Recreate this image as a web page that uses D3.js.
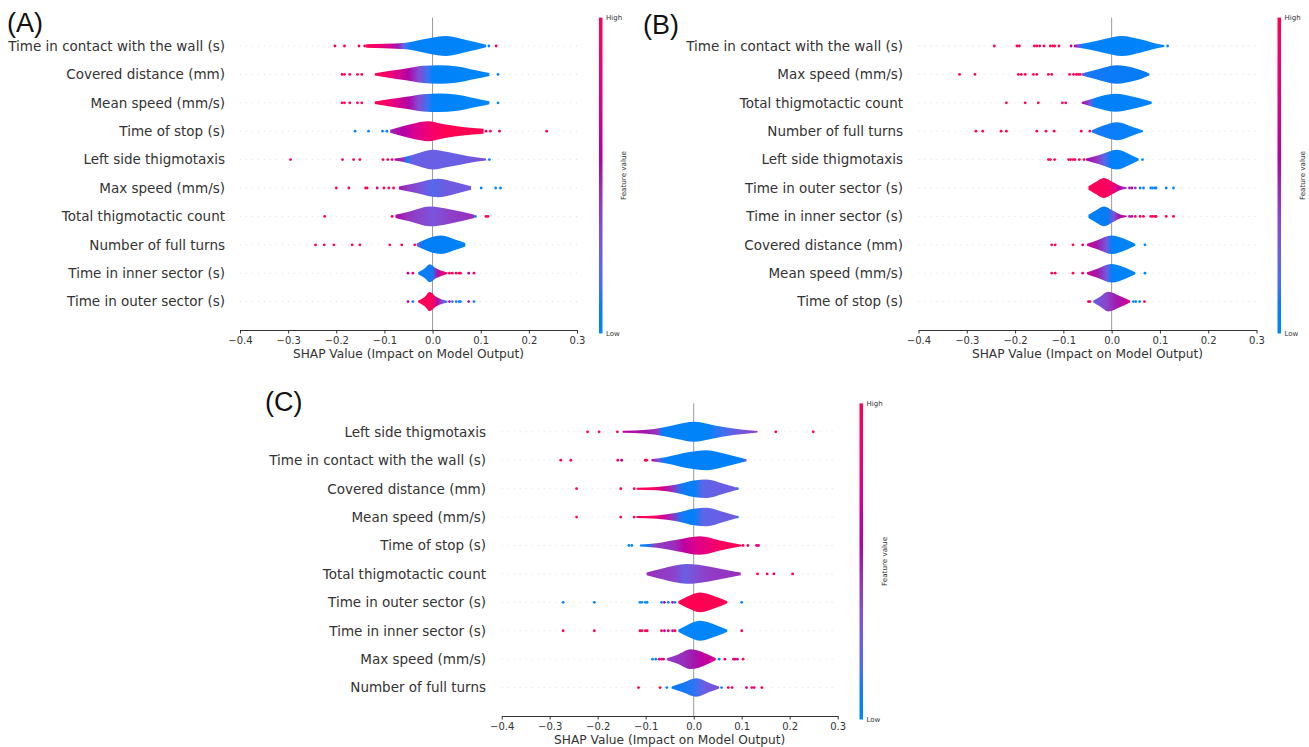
<!DOCTYPE html>
<html>
<head>
<meta charset="utf-8">
<script src="https://cdn.jsdelivr.net/npm/d3@7"></script>
<style>
  body { margin: 0; background: #ffffff; }
  svg { display: block; font-family: "DejaVu Sans", sans-serif; }
</style>
</head>
<body>
<div id="container"></div>
<script>
/* DATA */
const tickValues = [-0.4, -0.3, -0.2, -0.1, 0.0, 0.1, 0.2, 0.3];

const featuresA = ["Time in contact with the wall (s)", "Covered distance (mm)", "Mean speed (mm/s)", "Time of stop (s)",
  "Left side thigmotaxis", "Max speed (mm/s)", "Total thigmotactic count", "Number of full turns",
  "Time in inner sector (s)", "Time in outer sector (s)"];
const featuresB = ["Time in contact with the wall (s)", "Max speed (mm/s)", "Total thigmotactic count", "Number of full turns",
  "Left side thigmotaxis", "Time in outer sector (s)", "Time in inner sector (s)", "Covered distance (mm)",
  "Mean speed (mm/s)", "Time of stop (s)"];
const featuresC = ["Left side thigmotaxis", "Time in contact with the wall (s)", "Covered distance (mm)", "Mean speed (mm/s)",
  "Time of stop (s)", "Total thigmotactic count", "Time in outer sector (s)", "Time in inner sector (s)",
  "Max speed (mm/s)", "Number of full turns"];

// violin outline: [shap value, relative density]
const shapesA = [
  [[-0.138, 0.17], [-0.10, 0.22], [-0.055, 0.33], [-0.007, 0.77], [0.028, 1.0], [0.07, 0.6], [0.111, 0.12]],
  [[-0.12, 0.12], [-0.088, 0.37], [-0.055, 0.6], [-0.02, 0.87], [0.014, 0.93], [0.048, 0.83], [0.09, 0.43], [0.118, 0.15]],
  [[-0.12, 0.12], [-0.088, 0.37], [-0.055, 0.6], [-0.02, 0.87], [0.014, 0.93], [0.048, 0.83], [0.09, 0.43], [0.118, 0.15]],
  [[-0.088, 0.15], [-0.062, 0.5], [-0.034, 0.83], [-0.01, 1.0], [0.021, 0.73], [0.062, 0.43], [0.106, 0.25]],
  [[-0.079, 0.1], [-0.058, 0.27], [-0.034, 0.6], [0.0, 1.0], [0.034, 0.73], [0.075, 0.33], [0.111, 0.1]],
  [[-0.07, 0.15], [-0.034, 0.5], [0.011, 0.93], [0.048, 0.57], [0.08, 0.17]],
  [[-0.077, 0.17], [-0.048, 0.5], [-0.006, 1.0], [0.035, 0.73], [0.087, 0.17]],
  [[-0.033, 0.12], [-0.021, 0.4], [0.018, 0.93], [0.048, 0.5], [0.068, 0.17]],
  [[-0.03, 0.1], [-0.016, 0.5], [-0.006, 0.9], [0.007, 0.5], [0.024, 0.17], [0.031, 0.08]],
  [[-0.03, 0.1], [-0.016, 0.5], [-0.006, 0.97], [0.007, 0.5], [0.024, 0.17], [0.031, 0.08]]
];
const shapesB = [
  [[-0.078, 0.12], [-0.052, 0.3], [-0.017, 0.67], [0.021, 1.0], [0.059, 0.67], [0.094, 0.23], [0.109, 0.1]],
  [[-0.062, 0.1], [-0.038, 0.4], [0.011, 0.93], [0.045, 0.67], [0.078, 0.1]],
  [[-0.062, 0.08], [-0.038, 0.43], [0.007, 0.9], [0.045, 0.6], [0.083, 0.1]],
  [[-0.041, 0.1], [-0.017, 0.57], [0.011, 0.9], [0.045, 0.4], [0.065, 0.08]],
  [[-0.053, 0.1], [-0.024, 0.5], [0.011, 1.0], [0.039, 0.5], [0.056, 0.1]],
  [[-0.048, 0.17], [-0.034, 0.57], [-0.016, 1.0], [0.003, 0.57], [0.02, 0.17], [0.031, 0.07]],
  [[-0.048, 0.17], [-0.034, 0.57], [-0.016, 1.0], [0.003, 0.57], [0.02, 0.17], [0.031, 0.07]],
  [[-0.051, 0.1], [-0.031, 0.43], [0.0, 0.93], [0.031, 0.5], [0.049, 0.1]],
  [[-0.051, 0.1], [-0.031, 0.43], [0.0, 0.93], [0.031, 0.5], [0.049, 0.1]],
  [[-0.038, 0.1], [-0.024, 0.5], [-0.007, 1.0], [0.017, 0.57], [0.038, 0.1]]
];
const shapesC = [
  [[-0.148, 0.1], [-0.098, 0.2], [-0.067, 0.4], [-0.035, 0.73], [0.0, 1.0], [0.041, 0.67], [0.083, 0.33], [0.133, 0.07]],
  [[-0.088, 0.1], [-0.056, 0.33], [-0.015, 0.77], [0.027, 1.0], [0.069, 0.6], [0.11, 0.1]],
  [[-0.119, 0.1], [-0.077, 0.17], [-0.035, 0.43], [0.0, 0.83], [0.027, 0.93], [0.062, 0.5], [0.091, 0.1]],
  [[-0.119, 0.1], [-0.077, 0.17], [-0.035, 0.43], [0.0, 0.83], [0.027, 0.93], [0.062, 0.5], [0.091, 0.1]],
  [[-0.112, 0.1], [-0.077, 0.23], [-0.035, 0.57], [0.013, 0.93], [0.055, 0.5], [0.1, 0.07]],
  [[-0.098, 0.13], [-0.063, 0.57], [-0.015, 1.0], [0.034, 0.73], [0.076, 0.33], [0.098, 0.13]],
  [[-0.032, 0.1], [-0.015, 0.53], [0.013, 1.0], [0.048, 0.53], [0.07, 0.1]],
  [[-0.032, 0.1], [-0.015, 0.53], [0.013, 1.0], [0.048, 0.53], [0.07, 0.1]],
  [[-0.056, 0.1], [-0.035, 0.43], [-0.006, 1.0], [0.027, 0.53], [0.046, 0.1]],
  [[-0.046, 0.1], [-0.021, 0.5], [0.005, 0.93], [0.034, 0.43], [0.053, 0.1]]
];

// mean feature value along the violin: [shap value, 0 = low .. 1 = high]
const coloursA = [
  [[-0.138, 1], [-0.115, 0.9], [-0.09, 0.7], [-0.072, 0.5], [-0.06, 0.2], [-0.045, 0.05], [0.111, 0.02]],
  [[-0.12, 1], [-0.095, 0.9], [-0.075, 0.75], [-0.05, 0.55], [-0.03, 0.35], [-0.01, 0.15], [0.0, 0.03], [0.118, 0.02]],
  [[-0.12, 1], [-0.095, 0.9], [-0.075, 0.75], [-0.05, 0.55], [-0.03, 0.35], [-0.01, 0.15], [0.0, 0.03], [0.118, 0.02]],
  [[-0.088, 0.48], [-0.06, 0.58], [-0.035, 0.72], [-0.01, 0.85], [0.01, 0.95], [0.03, 1], [0.106, 1]],
  [[-0.079, 0.55], [-0.06, 0.45], [-0.055, 0.05], [-0.045, 0.25], [0.05, 0.25], [0.111, 0.32]],
  [[-0.07, 0.5], [-0.05, 0.4], [-0.02, 0.28], [0.0, 0.2], [0.03, 0.27], [0.08, 0.27]],
  [[-0.077, 0.55], [-0.05, 0.42], [-0.02, 0.36], [0.0, 0.3], [0.03, 0.38], [0.087, 0.45]],
  [[-0.033, 0.25], [-0.02, 0.08], [0.068, 0.03]],
  [[-0.03, 0.05], [0.0, 0.1], [0.01, 0.5], [0.02, 0.8], [0.031, 0.9]],
  [[-0.03, 1], [0.0, 0.95], [0.01, 0.6], [0.02, 0.3], [0.031, 0.15]]
];
const coloursB = [
  [[-0.078, 0.55], [-0.068, 0.3], [-0.06, 0.05], [0.109, 0.02]],
  [[-0.062, 0.35], [-0.05, 0.1], [0.078, 0.08]],
  [[-0.062, 0.55], [-0.045, 0.3], [-0.035, 0.05], [0.083, 0.03]],
  [[-0.041, 0.1], [0.065, 0.02]],
  [[-0.053, 0.55], [-0.03, 0.42], [-0.015, 0.2], [0.0, 0.05], [0.056, 0.02]],
  [[-0.048, 1], [-0.01, 0.95], [0.005, 0.85], [0.015, 0.6], [0.031, 0.4]],
  [[-0.048, 0.03], [-0.01, 0.08], [0.005, 0.3], [0.015, 0.5], [0.031, 0.7]],
  [[-0.051, 0.7], [-0.03, 0.5], [-0.01, 0.28], [0.0, 0.05], [0.049, 0.02]],
  [[-0.051, 0.7], [-0.03, 0.5], [-0.01, 0.28], [0.0, 0.05], [0.049, 0.02]],
  [[-0.038, 0.25], [-0.01, 0.38], [0.01, 0.5], [0.03, 0.65], [0.038, 0.7]]
];
const coloursC = [
  [[-0.148, 0.6], [-0.1, 0.5], [-0.075, 0.42], [-0.065, 0.05], [0.03, 0.03], [0.06, 0.15], [0.1, 0.3], [0.133, 0.4]],
  [[-0.088, 0.6], [-0.075, 0.35], [-0.06, 0.05], [0.1, 0.05], [0.11, 0.35]],
  [[-0.119, 1], [-0.085, 0.95], [-0.065, 0.7], [-0.045, 0.45], [-0.025, 0.1], [0.0, 0.05], [0.02, 0.22], [0.091, 0.27]],
  [[-0.119, 1], [-0.085, 0.95], [-0.065, 0.7], [-0.045, 0.45], [-0.025, 0.1], [0.0, 0.05], [0.02, 0.22], [0.091, 0.27]],
  [[-0.112, 0.02], [-0.095, 0.1], [-0.08, 0.4], [-0.04, 0.45], [-0.02, 0.6], [0.0, 0.72], [0.03, 0.82], [0.06, 0.95], [0.1, 1]],
  [[-0.098, 0.45], [-0.04, 0.38], [-0.02, 0.25], [0.0, 0.32], [0.03, 0.4], [0.098, 0.45]],
  [[-0.032, 1], [0.07, 1]],
  [[-0.032, 0.02], [0.07, 0.02]],
  [[-0.056, 0.4], [-0.02, 0.45], [0.0, 0.5], [0.02, 0.6], [0.046, 0.72]],
  [[-0.046, 0.08], [0.0, 0.12], [0.02, 0.25], [0.053, 0.33]]
];

// single points outside the violins: [shap value, feature value]
const dotsA = [
  [[-0.203, 1], [-0.183, 1], [-0.153, 1], [-0.141, 1], [0.117, 0], [0.132, 1]],
  [[-0.188, 1], [-0.183, 1], [-0.172, 1], [-0.156, 1], [-0.147, 1], [0.136, 0]],
  [[-0.188, 1], [-0.183, 1], [-0.172, 1], [-0.156, 1], [-0.147, 1], [0.136, 0]],
  [[-0.161, 0], [-0.133, 0], [-0.104, 0], [-0.095, 0], [0.111, 1], [0.120, 1], [0.139, 1], [0.237, 1]],
  [[-0.295, 0.85], [-0.187, 0.75], [-0.164, 1], [-0.151, 1], [-0.103, 1], [-0.093, 1], [-0.084, 0.85], [0.118, 0]],
  [[-0.2, 1], [-0.174, 1], [-0.139, 1], [-0.136, 1], [-0.115, 0.7], [-0.101, 1], [-0.091, 1], [-0.081, 1], [0.101, 0], [0.131, 0], [0.141, 0]],
  [[-0.224, 1], [-0.084, 1], [0.089, 0], [0.111, 1], [0.115, 1]],
  [[-0.243, 1], [-0.225, 1], [-0.205, 1], [-0.167, 1], [-0.151, 1], [-0.089, 1], [-0.064, 1], [-0.037, 0.9]],
  [[-0.051, 0.6], [-0.041, 0.8], [0.035, 1], [0.041, 1], [0.049, 1], [0.055, 0.9], [0.058, 1], [0.075, 0.55], [0.086, 1]],
  [[-0.051, 0.6], [-0.041, 0.1], [0.035, 0.5], [0.041, 0.2], [0.049, 0], [0.055, 0.1], [0.058, 0], [0.075, 0.5], [0.086, 0]]
];
const dotsB = [
  [[-0.243, 1], [-0.196, 1], [-0.191, 1], [-0.160, 1], [-0.155, 1], [-0.149, 1], [-0.140, 1], [-0.127, 1], [-0.122, 1], [-0.118, 1], [-0.109, 1], [-0.084, 0.6], [0.116, 0]],
  [[-0.315, 1], [-0.283, 1], [-0.193, 1], [-0.187, 1], [-0.179, 1], [-0.162, 1], [-0.155, 1], [-0.131, 1], [-0.124, 1], [-0.087, 1], [-0.079, 0.9], [-0.073, 1], [-0.069, 0.8], [-0.065, 1]],
  [[-0.218, 1], [-0.179, 1], [-0.152, 1], [-0.102, 1], [-0.095, 1]],
  [[-0.281, 1], [-0.267, 1], [-0.229, 1], [-0.218, 1], [-0.155, 1], [-0.136, 1], [-0.119, 1], [-0.063, 1], [-0.045, 0.9]],
  [[-0.131, 1], [-0.127, 1], [-0.118, 1], [-0.089, 1], [-0.085, 1], [-0.080, 1], [-0.076, 1], [-0.067, 1], [-0.057, 1], [0.064, 0]],
  [[0.037, 0.5], [0.042, 0.6], [0.049, 0.4], [0.059, 0], [0.066, 0], [0.081, 0], [0.085, 0], [0.09, 0], [0.092, 0], [0.113, 0], [0.128, 0]],
  [[0.037, 0.5], [0.042, 0.6], [0.049, 1], [0.059, 1], [0.066, 1], [0.081, 1], [0.085, 1], [0.09, 1], [0.092, 1], [0.113, 1], [0.128, 1]],
  [[-0.124, 1], [-0.117, 1], [-0.080, 1], [-0.060, 0.9], [0.069, 0]],
  [[-0.124, 1], [-0.117, 1], [-0.080, 1], [-0.060, 0.9], [0.069, 0]],
  [[-0.048, 1], [-0.045, 0.8], [0.045, 0], [0.05, 0], [0.058, 0], [0.068, 1]]
];
const dotsC = [
  [[-0.221, 1], [-0.197, 0.85], [-0.159, 1], [0.171, 1], [0.249, 1]],
  [[-0.277, 1], [-0.256, 1], [-0.158, 1], [-0.150, 0.6], [-0.101, 1], [-0.098, 1]],
  [[-0.244, 1], [-0.152, 1], [-0.124, 1], [0.091, 0]],
  [[-0.244, 1], [-0.152, 1], [-0.124, 1], [0.091, 0]],
  [[-0.135, 0], [-0.129, 0], [0.103, 1], [0.113, 0.8], [0.131, 1], [0.135, 0.7]],
  [[0.133, 1], [0.153, 1], [0.167, 1], [0.206, 1]],
  [[-0.272, 0], [-0.207, 0], [-0.112, 0], [-0.108, 0], [-0.101, 0], [-0.097, 0], [-0.067, 0], [-0.061, 0.6], [-0.053, 0], [-0.044, 0.6], [-0.039, 0], [0.10, 0]],
  [[-0.272, 1], [-0.207, 1], [-0.112, 1], [-0.108, 1], [-0.101, 1], [-0.097, 1], [-0.067, 1], [-0.061, 0.6], [-0.053, 1], [-0.044, 0.6], [-0.039, 1], [0.10, 1]],
  [[-0.086, 0], [-0.079, 0], [-0.072, 0.8], [-0.067, 1], [-0.063, 0.7], [0.053, 0], [0.065, 1], [0.083, 0.6], [0.086, 1], [0.091, 0.7], [0.103, 1]],
  [[-0.115, 1], [-0.07, 1], [-0.056, 0], [0.058, 0], [0.072, 1], [0.080, 0.9], [0.110, 0.6], [0.121, 1], [0.126, 0.7], [0.142, 1]]
];

/* CONSTANTS AND GLOBALS */
const width = 1309,
  height = 747;

// layout of the three panels (pixels)
const panels = [
  { tag: "(A)", features: featuresA, shapes: shapesA, colours: coloursA, dots: dotsA,
    x0: 240, x1: 577, top: 17.6, bottom: 330, labelX: 225, barX: 599, tagX: 7, tagY: 31.5 },
  { tag: "(B)", features: featuresB, shapes: shapesB, colours: coloursB, dots: dotsB,
    x0: 918.5, x1: 1256.5, top: 17.6, bottom: 330, labelX: 903, barX: 1277.5, tagX: 643, tagY: 33.5 },
  { tag: "(C)", features: featuresC, shapes: shapesC, colours: coloursC, dots: dotsC,
    x0: 501.7, x1: 837.7, top: 403.4, bottom: 716, labelX: 486, barX: 859.5, tagX: 265, tagY: 411 }
];

let svg;

// shap style red/blue map, walked in hcl space with a darker middle
function featureColor(t) {
  const l = t < 0.5 ? 54 - 28 * t : 40 + 28 * (t - 0.5);
  return d3.hcl(267 + 113.3 * t, 70 + 20 * t, l).formatHex();
}

init();

/* INITIALIZING FUNCTION */
function init() {
  svg = d3.select("#container")
    .append("svg")
    .attr("width", width)
    .attr("height", height);

  const defs = svg.append("defs");

  // vertical gradient for the colour bars
  const barGrad = defs.append("linearGradient")
    .attr("id", "bar-grad")
    .attr("x1", 0).attr("y1", 1).attr("x2", 0).attr("y2", 0);
  barGrad.selectAll("stop")
    .data(d3.range(0, 1.001, 0.05))
    .join("stop")
    .attr("offset", d => d)
    .attr("stop-color", d => featureColor(d));

  panels.forEach((p, i) => draw(p, i, defs));
}

/* DRAW FUNCTION */
function draw(p, i, defs) {
  const xScale = d3.scaleLinear()
    .domain([-0.4, 0.3])
    .range([p.x0, p.x1]);

  const step = (p.bottom - p.top) / (p.features.length + 1);
  const yScale = d3.scalePoint()
    .domain(p.features)
    .range([p.top + step, p.bottom - step]);
  const halfWidth = step * 0.35;

  const g = svg.append("g").attr("class", "panel");

  // + ROW GUIDES
  g.selectAll("line.guide")
    .data(p.features)
    .join("line")
    .attr("class", "guide")
    .attr("x1", p.x0)
    .attr("x2", p.x1)
    .attr("y1", d => yScale(d))
    .attr("y2", d => yScale(d))
    .attr("stroke", "#cccccc")
    .attr("stroke-width", 0.6)
    .attr("stroke-dasharray", "1,5");

  // + ZERO LINE
  g.append("line")
    .attr("x1", xScale(0))
    .attr("x2", xScale(0))
    .attr("y1", p.top)
    .attr("y2", p.bottom)
    .attr("stroke", "#999999")
    .attr("stroke-width", 1);

  // + DOTS
  p.features.forEach((f, k) => {
    g.append("g")
      .selectAll("circle")
      .data(p.dots[k])
      .join("circle")
      .attr("cx", d => xScale(d[0]))
      .attr("cy", yScale(f))
      .attr("r", 1.4)
      .attr("fill", d => featureColor(d[1]));
  });

  // + VIOLINS
  p.features.forEach((f, k) => {
    const shape = p.shapes[k];
    const lo = shape[0][0],
      hi = shape[shape.length - 1][0];
    const gradId = `violin-${i}-${k}`;

    const grad = defs.append("linearGradient")
      .attr("id", gradId)
      .attr("gradientUnits", "userSpaceOnUse")
      .attr("x1", xScale(lo)).attr("x2", xScale(hi))
      .attr("y1", 0).attr("y2", 0);
    grad.selectAll("stop")
      .data(p.colours[k])
      .join("stop")
      .attr("offset", d => Math.max(0, Math.min(1, (d[0] - lo) / (hi - lo))))
      .attr("stop-color", d => featureColor(d[1]));

    const area = d3.area()
      .x(d => xScale(d[0]))
      .y0(d => yScale(f) - d[1] * halfWidth)
      .y1(d => yScale(f) + d[1] * halfWidth)
      .curve(d3.curveMonotoneX);

    g.append("path")
      .datum(shape)
      .attr("d", area)
      .attr("fill", `url(#${gradId})`);
  });

  // + FEATURE NAMES
  g.selectAll("text.feature")
    .data(p.features)
    .join("text")
    .attr("class", "feature")
    .attr("x", p.labelX)
    .attr("y", d => yScale(d))
    .attr("dy", "0.36em")
    .attr("text-anchor", "end")
    .attr("font-size", "13.5px")
    .attr("fill", "#333333")
    .text(d => d);

  // + X AXIS
  const xAxis = d3.axisBottom(xScale)
    .tickValues(tickValues)
    .tickFormat(d3.format(".1f"))
    .tickSizeInner(3.5)
    .tickSizeOuter(0)
    .tickPadding(3.5);

  const xAxisGroup = g.append("g")
    .attr("transform", `translate(0, ${p.bottom})`)
    .call(xAxis);
  xAxisGroup.select(".domain").attr("stroke", "#333333");
  xAxisGroup.selectAll(".tick line").attr("stroke", "#333333");
  xAxisGroup.selectAll(".tick text")
    .attr("fill", "#333333")
    .attr("font-size", "10px")
    .attr("font-family", "DejaVu Sans");

  g.append("text")
    .attr("x", (p.x0 + p.x1) / 2)
    .attr("y", p.bottom + 28)
    .attr("text-anchor", "middle")
    .attr("font-size", "12.2px")
    .attr("fill", "#333333")
    .text("SHAP Value (Impact on Model Output)");

  // + COLOUR BAR
  const barTop = p.top,
    barBottom = p.bottom + 3.5;
  g.append("rect")
    .attr("x", p.barX)
    .attr("y", barTop)
    .attr("width", 3.5)
    .attr("height", barBottom - barTop)
    .attr("fill", "url(#bar-grad)");

  g.append("text")
    .attr("x", p.barX + 7)
    .attr("y", barTop)
    .attr("dy", "0.35em")
    .attr("font-size", "7px")
    .attr("fill", "#333333")
    .text("High");
  g.append("text")
    .attr("x", p.barX + 7)
    .attr("y", barBottom)
    .attr("dy", "0.35em")
    .attr("font-size", "7px")
    .attr("fill", "#333333")
    .text("Low");
  g.append("text")
    .attr("transform", `translate(${p.barX + 27}, ${(barTop + barBottom) / 2}) rotate(-90)`)
    .attr("text-anchor", "middle")
    .attr("font-size", "7.2px")
    .attr("fill", "#333333")
    .text("Feature value");

  // + PANEL TAG
  g.append("text")
    .attr("x", p.tagX)
    .attr("y", p.tagY)
    .attr("font-family", "Liberation Sans, Arial, sans-serif")
    .attr("font-size", "27px")
    .attr("fill", "#111111")
    .text(p.tag);
}
</script>
</body>
</html>
